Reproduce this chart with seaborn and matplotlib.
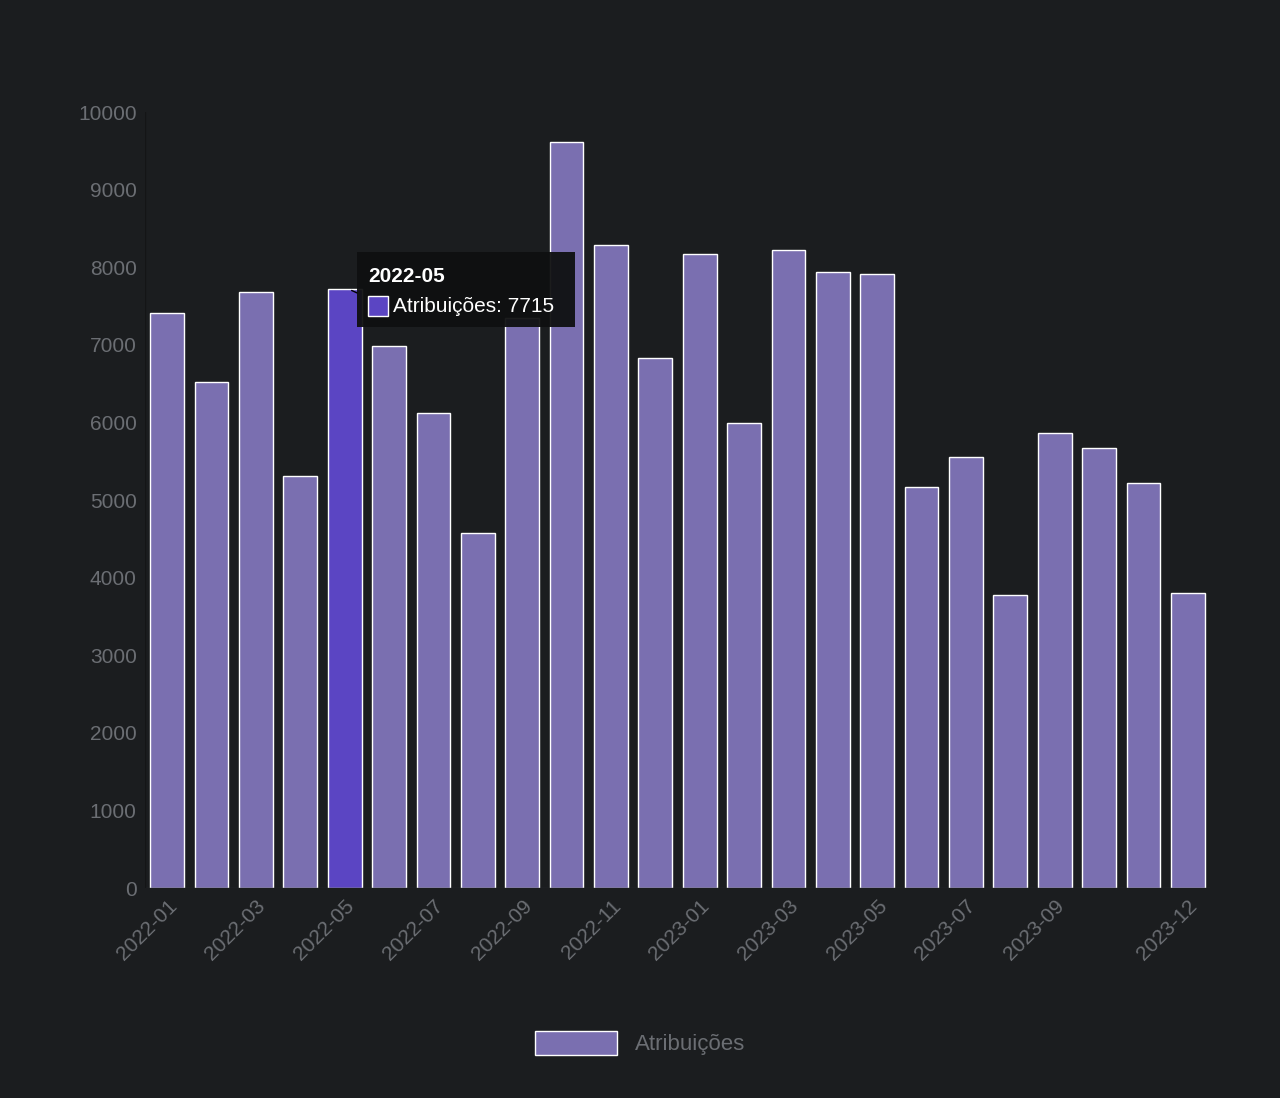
import matplotlib
matplotlib.use("Agg")
import matplotlib.pyplot as plt
import seaborn as sns
import pandas as pd
from matplotlib.patches import Patch

months = [f"{y}-{m:02d}" for y in (2022, 2023) for m in range(1, 13)]
values = [7410, 6520, 7680, 5310, 7715, 6985, 6120, 4575, 7350, 9610, 8285, 6830,
          8170, 5990, 8220, 7940, 7910, 5170, 5555, 3780, 5865, 5670, 5220, 3800]
shown_labels = ["2022-01", "2022-03", "2022-05", "2022-07", "2022-09", "2022-11",
                "2023-01", "2023-03", "2023-05", "2023-07", "2023-09", "2023-12"]
highlight = "2022-05"

bg = "#1b1d1f"
bar_color = "#7a6fb0"
hi_color = "#5b45c3"
txt = "#6b6e73"

sns.set_style("dark")
plt.rcParams['font.family'] = ['Liberation Sans', 'DejaVu Sans']

df = pd.DataFrame({"mes": months, "val": values})
fig = plt.figure(figsize=(12.8, 10.98), dpi=100, facecolor=bg)
ax = fig.add_axes([145/1280, 1-888/1098, (1210-145)/1280, (888-112)/1098])
ax.set_facecolor(bg)
palette = [hi_color if m == highlight else bar_color for m in months]
sns.barplot(data=df, x="mes", y="val", hue="mes", palette=palette, legend=False,
            width=0.76, ax=ax, saturation=1)

ax.set_ylim(0, 10000)
ax.set_xlim(-0.5, len(months) - 0.5)
ax.set_yticks(range(0, 10001, 1000))
ax.set_xticks([months.index(l) for l in shown_labels])
ax.set_xticklabels(shown_labels, rotation=45, ha="right", rotation_mode="anchor")
ax.tick_params(colors=txt, labelsize=15, length=0, pad=6)
ax.set_xlabel("")
ax.set_ylabel("")
ax.grid(False)
for s in ax.spines.values():
    s.set_visible(False)
ax.axhline(0, color="#2a2c2f", lw=1)
ax.axvline(-0.5, color="#141516", lw=1)

# tooltip
i = months.index(highlight)
ax.annotate("", xy=(i + 0.1, 7715), xytext=(i + 0.35, 7650),
            arrowprops=dict(arrowstyle="-", color="black"))
tip = fig.add_axes([357/1280, 1-327/1098, (575-357)/1280, (327-252)/1098])
tip.set_axis_off()
tip.add_patch(plt.Rectangle((0, 0), 1, 1, transform=tip.transAxes,
                            facecolor="#0f1011", alpha=0.95, edgecolor="none"))
tip.text(0.05, 0.67, highlight, color="white", fontsize=15, fontweight="bold",
         va="center", transform=tip.transAxes)
tip.add_patch(plt.Rectangle((0.05, 0.15), 0.09, 0.27, transform=tip.transAxes,
                            facecolor=hi_color, edgecolor="white", lw=1))
tip.text(0.165, 0.27, f"Atribuições: {values[i]}", color="white", fontsize=15,
         va="center", transform=tip.transAxes)

fig.legend(handles=[Patch(facecolor=bar_color, label="Atribuições")],
           loc="center", bbox_to_anchor=(0.5, 1-1043/1098), frameon=False,
           fontsize=16, labelcolor=txt, handlelength=3.7, handleheight=1.3)

fig.savefig("out.png", dpi=100, facecolor=bg)
